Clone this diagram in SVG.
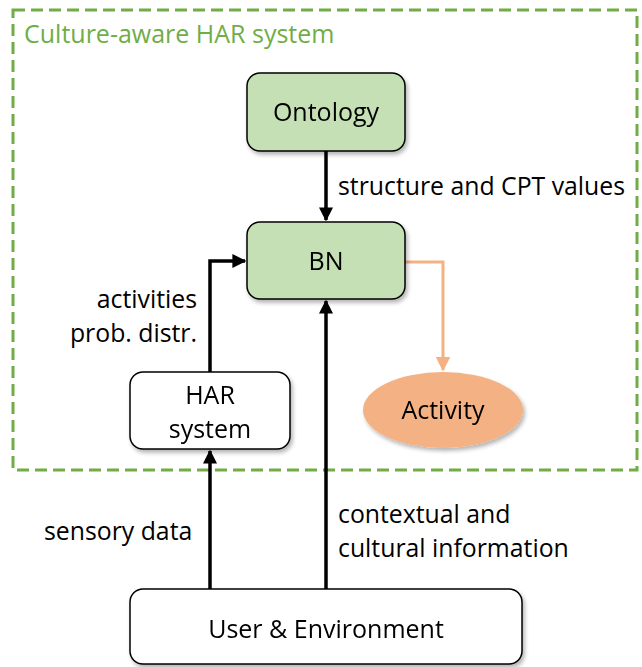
<svg xmlns="http://www.w3.org/2000/svg" width="642" height="667" viewBox="0 0 642 667">
  <style>
    text { font-family: "Open Sans", "Liberation Sans", sans-serif; fill: #000; }
    .lbl { font-size: 24.8px; }
    .node { font-size: 25px; text-anchor: middle; }
    .green { fill: #C5E0B4; stroke: #000; stroke-width: 1.5; }
    .white { fill: #fff; stroke: #000; stroke-width: 1.5; }
    .conn { fill: none; stroke: #000; stroke-width: 3.5; }
    .oconn { fill: none; stroke: #F4B183; stroke-width: 3; }
  </style>
  <defs>
    <filter id="shadow" x="-10%" y="-10%" width="130%" height="140%">
      <feGaussianBlur in="SourceAlpha" stdDeviation="2"/>
      <feOffset dx="2" dy="3" result="b"/>
      <feComponentTransfer><feFuncA type="linear" slope="0.3"/></feComponentTransfer>
      <feMerge><feMergeNode/><feMergeNode in="SourceGraphic"/></feMerge>
    </filter>
    <marker id="ah" viewBox="0 0 10 10" refX="9" refY="5" markerWidth="4" markerHeight="4" orient="auto" markerUnits="strokeWidth">
      <path d="M0,0 L10,5 L0,10 z" fill="#000"/>
    </marker>
    <marker id="ahO" viewBox="0 0 10 10" refX="9" refY="5" markerWidth="5" markerHeight="5" orient="auto" markerUnits="strokeWidth">
      <path d="M0,0 L10,5 L0,10 z" fill="#F4B183"/>
    </marker>
  </defs>

  <!-- system boundary -->
  <g id="boundary">
    <rect x="13" y="10" width="624" height="460" fill="none" stroke="#70AD47" stroke-width="3" stroke-dasharray="12 6"/>
    <text x="24" y="43" style="font-size:25px; fill:#70AD47">Culture-aware HAR system</text>
  </g>

  <!-- connectors -->
  <g id="connectors">
    <path class="conn" d="M326,151 V220" marker-end="url(#ah)"/>
    <path class="conn" d="M210,372 V261 H245" marker-end="url(#ah)"/>
    <path class="conn" d="M210,589 V451" marker-end="url(#ah)"/>
    <path class="conn" d="M326,589 V301" marker-end="url(#ah)"/>
    <path class="oconn" d="M405,262 H443 V370" marker-end="url(#ahO)"/>
    <text class="lbl" x="338" y="195">structure and CPT values</text>
    <text class="lbl" x="197" y="308" text-anchor="end">activities</text>
    <text class="lbl" x="197" y="342" text-anchor="end">prob. distr.</text>
    <text class="lbl" x="44" y="540">sensory data</text>
    <text class="lbl" x="338" y="523">contextual and</text>
    <text class="lbl" x="338" y="557">cultural information</text>
  </g>

  <g id="ontology" filter="url(#shadow)">
    <rect class="green" x="247" y="73" width="158" height="78" rx="13"/>
    <text class="node" x="326" y="121">Ontology</text>
  </g>

  <g id="bn" filter="url(#shadow)">
    <rect class="green" x="247" y="222" width="158" height="77" rx="13"/>
    <text class="node" x="326" y="270">BN</text>
  </g>

  <g id="har" filter="url(#shadow)">
    <rect class="white" x="130" y="372" width="160" height="77" rx="13"/>
    <text class="node" x="210" y="404">HAR</text>
    <text class="node" x="210" y="438">system</text>
  </g>

  <g id="activity" filter="url(#shadow)">
    <ellipse cx="443" cy="410" rx="80" ry="38" fill="#F4B183"/>
    <text class="node" x="443" y="419">Activity</text>
  </g>

  <g id="user-env" filter="url(#shadow)">
    <rect class="white" x="130" y="589" width="392" height="75" rx="13"/>
    <text class="node" x="326" y="638">User &amp; Environment</text>
  </g>
</svg>
